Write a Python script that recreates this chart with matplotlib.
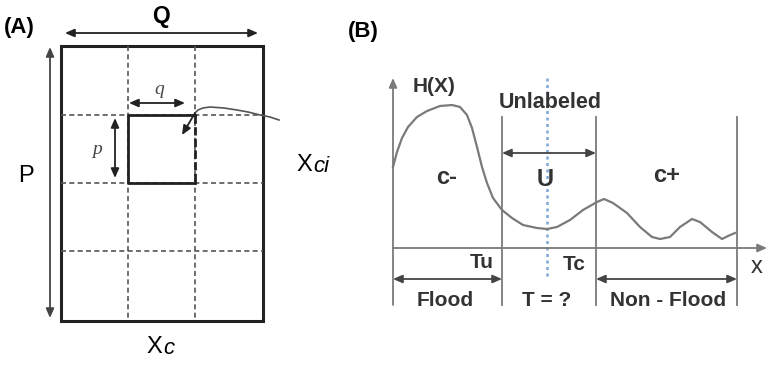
import numpy as np
import matplotlib.pyplot as plt
from matplotlib.patches import Rectangle

# panel A: grid of cells (pixel layout of the figure)
grid_x = [61, 128, 195, 263]
grid_y = [46, 115, 183, 251, 321]
cell_x = [128, 195]
cell_y = [115, 183]
pointer_x = [279, 270, 260, 248, 237, 224, 210, 203, 198, 195]
pointer_y = [120, 117, 115, 112, 110, 108, 107, 108, 110, 113]

# panel B: H(X) curve
curve_x = [393, 397, 402, 408, 417, 427, 440, 452, 460, 467, 472, 477, 482, 487, 493,
           502, 512, 523, 537, 547, 557, 570, 583, 597, 604, 613, 627, 640, 652, 660,
           670, 680, 692, 700, 712, 722, 728, 735]
curve_y = [167, 152, 138, 127, 117, 111, 106, 105, 107, 115, 128, 147, 167, 183, 198,
           210, 218, 225, 228, 229, 227, 220, 210, 202, 199, 203, 213, 227, 237, 239,
           237, 227, 219, 222, 232, 239, 236, 233]
bounds_x = [502, 596, 737]
axis_x0, axis_y0 = 393, 248

fig = plt.figure(figsize=(7.68, 3.7), dpi=100)
ax = fig.add_axes([0, 0, 1, 1])
ax.set_xlim(0, 768)
ax.set_ylim(370, 0)
ax.axis('off')

dark = '#222222'
gray = '#7a7a7a'
sans = 'Liberation Sans'

def arrow(x0, y0, x1, y1, color=dark, lw=1.3, style='<|-|>'):
    ax.annotate('', xy=(x1, y1), xytext=(x0, y0),
                arrowprops=dict(arrowstyle=style + ',head_length=0.55,head_width=0.24',
                                color=color, lw=lw, shrinkA=0, shrinkB=0))

# ---------------- panel A ----------------
ax.text(4, 28, '(A)', fontsize=16, fontweight='bold', ha='left', va='center', family=sans)
for x in grid_x[1:-1]:
    ax.plot([x, x], [grid_y[0], grid_y[-1]], color='#555555', lw=1.2, dashes=(3, 2))
for y in grid_y[1:-1]:
    ax.plot([grid_x[0], grid_x[-1]], [y, y], color='#555555', lw=1.2, dashes=(3, 2))
ax.add_patch(Rectangle((grid_x[0], grid_y[0]), grid_x[-1] - grid_x[0], grid_y[-1] - grid_y[0],
                       fill=False, ec=dark, lw=2.2))
# highlighted cell: solid on three sides, heavy dashed on the right
ax.plot([cell_x[1], cell_x[0], cell_x[0], cell_x[1]],
        [cell_y[0], cell_y[0], cell_y[1], cell_y[1]], color=dark, lw=2.0)
ax.plot([cell_x[1], cell_x[1]], cell_y, color=dark, lw=2.0, dashes=(3, 1.2))

arrow(65, 33, 258, 33)
ax.text(161, 17, 'Q', fontsize=16.5, fontweight='bold', ha='center', va='center', family=sans)
arrow(50, 47, 50, 318, color='#444444')
ax.text(26, 176, 'P', fontsize=17, ha='center', va='center', family=sans)
arrow(129, 103, 185, 103)
ax.text(159, 90, 'q', fontsize=14, style='italic', ha='center', va='center',
        family='Liberation Serif', color='#444444')
arrow(115, 118, 115, 178)
ax.text(97, 150, 'p', fontsize=14, style='italic', ha='center', va='center',
        family='Liberation Serif', color='#444444')

ax.plot(pointer_x, pointer_y, color='#555555', lw=1.2)
arrow(195, 113, 182, 135, color=dark, lw=1.3, style='-|>')

ax.text(296, 165, 'X', fontsize=17, ha='left', va='center', family=sans)
ax.text(313, 166, 'ci', fontsize=16, style='italic', ha='left', va='center', family=sans)
ax.text(146, 347, 'X', fontsize=17, ha='left', va='center', family=sans)
ax.text(163, 348, 'c', fontsize=16, style='italic', ha='left', va='center', family=sans)

# ---------------- panel B ----------------
ax.text(348, 32, '(B)', fontsize=16, fontweight='bold', ha='left', va='center', family=sans)
arrow(axis_x0, 305, axis_x0, 78, color=gray, lw=1.3, style='-|>')
arrow(axis_x0, axis_y0, 767, axis_y0, color=gray, lw=1.3, style='-|>')
for x in bounds_x:
    ax.plot([x, x], [117, 305], color=gray, lw=1.3)
ax.plot([547, 547], [78, 278], color='#7ea6d6', lw=1.8, ls=(0, (1.2, 1.4)))
ax.plot(curve_x, curve_y, color=gray, lw=1.6)

arrow(bounds_x[0], 153, bounds_x[1], 153, color='#444444')
arrow(axis_x0, 279, bounds_x[0], 279, color='#444444')
arrow(bounds_x[1], 279, bounds_x[2], 279, color='#444444')

lab = dict(fontsize=15, fontweight='bold', ha='center', va='center',
           family=sans, color='#333333')
ax.text(434, 86, 'H(X)', **lab)
ax.text(550, 102, 'Unlabeled', **dict(lab, fontsize=15.5))
ax.text(545, 180, 'U', **dict(lab, fontsize=17))
ax.text(447, 178, 'c-', **dict(lab, fontsize=17))
ax.text(667, 176, 'c+', **dict(lab, fontsize=17))
ax.text(482, 263, 'Tu', **lab)
ax.text(574, 265, 'Tc', **lab)
ax.text(757, 267, 'x', **dict(lab, fontweight='normal', fontsize=17))
ax.text(445, 301, 'Flood', **lab)
ax.text(547, 301, 'T = ?', **lab)
ax.text(668, 300, 'Non - Flood', **lab)

fig.savefig('out.png', dpi=100)
